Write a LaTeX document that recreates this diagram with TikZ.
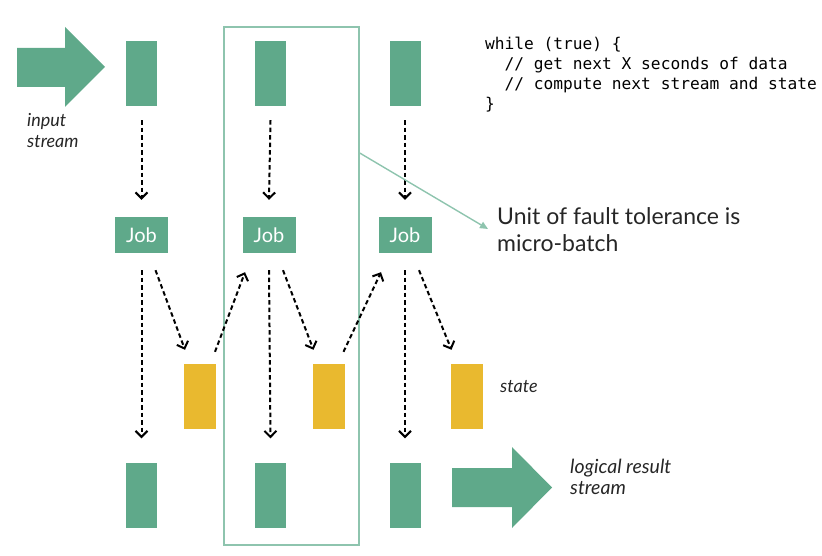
\documentclass[tikz,border=0pt]{standalone}
\usepackage{fontspec}
\setmainfont{Lato}
\newfontfamily\codefont{DejaVu Sans Mono}
\usetikzlibrary{arrows.meta}
\definecolor{sgreen}{HTML}{5FA98A}
\definecolor{syellow}{HTML}{E9B92F}
\definecolor{sline}{HTML}{8EC4AE}
\tikzset{
  bar/.style={fill=sgreen, draw=none, minimum width=31pt, minimum height=65pt, inner sep=0pt},
  jobbox/.style={fill=sgreen, draw=none, minimum width=53pt, minimum height=36pt, inner sep=0pt, text=white, font=\fontsize{20}{22}\selectfont},
  statebox/.style={fill=syellow, draw=none, minimum width=32pt, minimum height=65pt, inner sep=0pt},
  darr/.style={draw=black, line width=2pt, dash pattern=on 4.5pt off 3pt, -{Straight Barb[length=6pt,width=12pt,line width=2pt]}},
  lbl/.style={font=\itshape\fontsize{18}{21}\selectfont, align=left, anchor=west, inner sep=0pt, text=black!85},
}
\begin{document}
\begin{tikzpicture}[x=1pt,y=-1pt]
\useasboundingbox (0,0) rectangle (822,556);
% big arrows
\fill[sgreen] (17,48) -- (65,48) -- (65,27) -- (105,67) -- (65,107) -- (65,87) -- (17,87) -- cycle;
\fill[sgreen] (452,468) -- (512,468) -- (512,447) -- (552,487.5) -- (512,528) -- (512,507) -- (452,507) -- cycle;
% outline box
\node[draw=sline, line width=1.4pt, minimum width=135pt, minimum height=518pt, inner sep=0pt] (mb) at (291.5,286) {};
% top bars
\node[bar] (in1) at (141.5,73.5) {};
\node[bar] (in2) at (270.5,73.5) {};
\node[bar] (in3) at (405,73.5) {};
% jobs
\node[jobbox] (job1) at (141.5,235) {Job};
\node[jobbox] (job2) at (269,235) {Job};
\node[jobbox] (job3) at (405,235) {Job};
% states
\node[statebox] (st1) at (200,396.5) {};
\node[statebox] (st2) at (328.5,396.5) {};
\node[statebox] (st3) at (466.5,396.5) {};
% output bars
\node[bar] (out1) at (141.5,495) {};
\node[bar] (out2) at (270.5,495) {};
\node[bar] (out3) at (405,495) {};
% arrows
\foreach \i in {1,2,3}{
  \draw[darr] ([yshift=-14pt]in\i.south) -- ([yshift=17pt]job\i.north);
  \draw[darr] ([yshift=-17pt]job\i.south) -- ([yshift=24pt]out\i.north);
  \draw[darr] ([xshift=14pt,yshift=-17pt]job\i.south) -- ([xshift=-15pt,yshift=14pt]st\i.north);
}
\draw[darr] ([xshift=15pt,yshift=12pt]st1.north) -- ([xshift=-24pt,yshift=-19pt]job2.south);
\draw[darr] ([xshift=15pt,yshift=12pt]st2.north) -- ([xshift=-24pt,yshift=-19pt]job3.south);
% callout
\coordinate (calltip) at (488,229);
\draw[sline, line width=1.4pt, -{Triangle[length=8pt,width=7pt]}] ([yshift=133pt]mb.east) -- (calltip);
\node[anchor=west, align=left, inner sep=0pt, font=\fontsize{23}{27}\selectfont, text=black!85] (unit) at (497,230) {Unit of fault tolerance is\\micro-batch};
% labels
\node[lbl] (inlbl) at (27,131) {input\\stream};
\node[lbl] (stlbl) at (500,387) {state};
\node[lbl, font=\itshape\fontsize{19.5}{21}\selectfont] (outlbl) at (570,477) {logical result\\stream};
% code
\node[anchor=north west, align=left, inner sep=0pt, font=\codefont\fontsize{16.2}{20}\selectfont] (code) at (485,37) {while (true) \{\\\ \ // get next X seconds of data\\\ \ // compute next stream and state\\\}};
\end{tikzpicture}
\end{document}
